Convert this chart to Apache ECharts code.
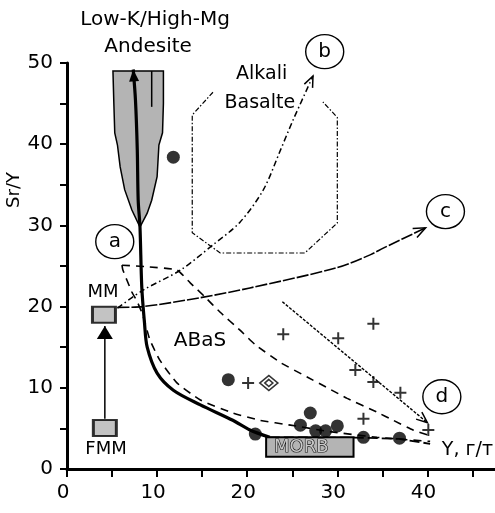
<!DOCTYPE html>
<html><head><meta charset="utf-8">
<script src="https://cdn.jsdelivr.net/npm/echarts@6/dist/echarts.min.js"></script>
<style>html,body{margin:0;padding:0;background:#fff}#c{width:495px;height:513px}</style>
</head><body><div id="c"></div>
<script>
const FONT = '"DejaVu Sans", sans-serif';
const xTickLabels = [0, 10, 20, 30, 40];
const yTickLabels = [0, 10, 20, 30, 40, 50];

// thick main trend curve (Sr/Y vs Y)
const mainCurve = [[22.5,3.9],[20.3,4.8],[18.4,6.0],[14.8,7.9],[11.8,9.7],[10.0,11.8],[8.9,15.0],[8.6,18.0],[8.3,22.4],[8.1,29.8],[7.9,33.1],[7.8,39.3],[7.6,45.4],[7.35,49.2]];
const mainTail = [[22.5,3.9],[32.9,3.85],[36.9,3.7],[40.3,3.1]];
// Low-K/High-Mg andesite field
const andesiteField = [[5.1,49.0],[5.2,45.0],[5.3,41.4],[5.6,39.9],[5.9,37.2],[6.4,34.4],[7.2,31.9],[8.1,29.8],[8.9,31.5],[9.4,33.1],[10.0,36.0],[10.2,39.9],[10.6,41.4],[10.7,45.0],[10.7,49.0]];
const andesiteInner = [[9.4,49.0],[9.4,44.6]];
// ABaS field boundaries
const abasUpper = [[6.1,25.1],[9.0,24.9],[12.2,24.5],[13.7,22.9],[15.3,21.2],[17.0,19.3],[19.2,17.1],[20.9,15.3],[23.7,13.1],[26.7,11.3],[28.9,10.0],[31.1,8.7],[34.4,7.0],[36.2,6.0],[38.4,4.8],[40.0,4.2]];
const abasInner = [[6.1,25.1],[6.2,24.5],[7.2,21.8],[7.8,20.6],[8.4,19.0],[9.2,15.9],[10.3,13.4],[12.2,10.6],[14.8,8.5],[18.4,6.9],[21.4,6.0],[24.8,5.4],[29.2,4.6],[34.4,3.9],[40.3,3.4]];
// trends b, c, d
const trendB = [[5.6,19.8],[8.4,22.0],[12.6,24.5],[16.2,27.6],[19.2,30.4],[21.8,34.4],[23.7,39.3],[25.1,43.0],[27.3,48.4]];
const trendC = [[5.6,19.9],[8.4,20.0],[14.8,21.1],[20.3,22.3],[30.0,24.8],[33.7,26.4],[35.1,27.2],[39.8,29.7]];
const trendD = [[23.9,20.6],[40.0,5.7]];
const fmmToMm = [[4.2,6.2],[4.2,17.6]];
// Alkali basalt field (open top)
const alkaliBasaltField = [[16.2,46.4],[13.9,43.6],[13.9,29.1],[17.0,26.6],[26.4,26.6],[30.0,30.3],[30.0,43.3],[28.4,45.2]];
// samples
const dots = [[11.8,38.4],[17.9,11.0],[20.9,4.3],[25.9,5.4],[27.0,6.9],[27.6,4.7],[28.7,4.7],[30.0,5.3],[32.9,3.9],[36.9,3.8]];
const crosses = [[24.0,16.6],[30.1,16.1],[34.0,17.9],[32.0,12.2],[34.0,10.7],[37.0,9.4],[32.9,6.2],[40.1,4.8],[20.1,10.6]];
const diamond = [[22.4,10.6]];
// sources
const mantleSources = [[4.1,19.0],[4.2,5.05]];
const morbBox = [[22.1,3.9],[31.8,1.5]];
// annotations
const circleTags = [[5.3,28.0],[28.6,51.4],[42.0,31.7],[41.6,8.9]];
const circleTagText = ['a','b','c','d'];
const notePos = [[9.77,55.3],[9.0,52.0],[21.6,48.6],[21.4,45.1],[14.76,15.8],[4.0,21.7],[4.33,2.46],[41.6,2.34]];
const noteText = ['Low-K/High-Mg','Andesite','Alkali','Basalte','ABaS','MM','FMM','Y, г/т'];
const noteSize = [20,20,19,19,20,18,18,19];
const noteAlign = ['center','center','center','center','center','center','center','left'];
const morbLabelPos = [[26.0,2.7]];

const arrowList = [
  {pts: mainCurve, fill: true, len: 12, half: 5},
  {pts: fmmToMm, fill: true, len: 13, half: 8},
  {pts: trendB, fill: false, len: 11, half: 4.5},
  {pts: trendC, fill: false, len: 12, half: 5},
  {pts: trendD, fill: false, len: 11, half: 4.5}
];

function lineSeries(data, width, dash, smooth, z) {
  return {type: 'line', data: data, symbol: 'none', showSymbol: false, smooth: smooth || false,
    lineStyle: {color: '#000', width: width, type: dash || 'solid', cap: 'butt'},
    silent: true, clip: false, z: z || 3};
}
function shapeSeries(points, build, z) {
  return {type: 'custom', coordinateSystem: 'cartesian2d', data: points, clip: false, silent: true, z: z || 2,
    renderItem: function (params, api) {
      if (params.dataIndex !== 0) return null;
      return build(points.map(function (p) { return api.coord(p); }), api);
    }};
}

const chart = echarts.init(document.getElementById('c'), null, {renderer: 'canvas'});
chart.setOption({
  animation: false,
  backgroundColor: '#fff',
  grid: {left: 67, right: 0, top: 63, bottom: 44, containLabel: false},
  xAxis: {type: 'value', min: 0, max: 47.5, interval: 5,
    axisLine: {show: true, onZero: false, lineStyle: {color: '#000', width: 3}},
    axisTick: {show: true, inside: false, length: 8, lineStyle: {color: '#000', width: 2}},
    axisLabel: {color: '#000', fontFamily: FONT, fontSize: 20, margin: 14, padding: [0, 8, 0, 0],
      showMaxLabel: false,
      formatter: function (v) { return xTickLabels.indexOf(v) >= 0 ? String(v) : ''; }},
    splitLine: {show: false}},
  yAxis: {type: 'value', min: 0, max: 50, interval: 5,
    axisLine: {show: true, onZero: false, lineStyle: {color: '#000', width: 3}},
    axisTick: {show: true, inside: false, length: 7, lineStyle: {color: '#000', width: 2}},
    axisLabel: {color: '#000', fontFamily: FONT, fontSize: 20, margin: 14,
      formatter: function (v) { return yTickLabels.indexOf(v) >= 0 ? String(v) : ''; }},
    splitLine: {show: false}},
  graphic: [{type: 'text', x: 14, y: 190, rotation: Math.PI / 2,
    style: {text: 'Sr/Y', fill: '#000', font: '18px ' + FONT, align: 'center', verticalAlign: 'middle'}}],
  series: [
    shapeSeries(andesiteField, function (pts) {
      return {type: 'polygon', shape: {points: pts}, style: {fill: '#b4b4b4', stroke: '#000', lineWidth: 1.5}};
    }, 1),
    shapeSeries(alkaliBasaltField, function (pts) {
      return {type: 'polyline', shape: {points: pts}, style: {fill: null, stroke: '#000', lineWidth: 1.2, lineDash: [5, 2, 1.5, 2]}};
    }, 1),
    lineSeries(andesiteInner, 1.5),
    lineSeries(abasUpper, 1.6, [8, 6], 0.15),
    lineSeries(abasInner, 1.6, [8, 6], 0.15),
    lineSeries(trendB, 1.5, [6, 3, 1.5, 3], 0.3),
    lineSeries(trendC, 1.6, [12, 2], 0.3),
    lineSeries(trendD, 1.4, [3, 1.5]),
    lineSeries(fmmToMm, 1.5),
    lineSeries(mainTail, 1.8, [10, 4]),
    lineSeries(mainCurve, 3.2, 'solid', 0.3, 4),
    {type: 'custom', coordinateSystem: 'cartesian2d', clip: false, silent: true, z: 5,
      data: arrowList.map(function (a) { return a.pts[a.pts.length - 1]; }),
      renderItem: function (params, api) {
        const a = arrowList[params.dataIndex];
        const n = a.pts.length;
        const p1 = api.coord(a.pts[n - 2]), p2 = api.coord(a.pts[n - 1]);
        const ang = Math.atan2(p2[1] - p1[1], p2[0] - p1[0]);
        const bx = p2[0] - a.len * Math.cos(ang), by = p2[1] - a.len * Math.sin(ang);
        const nx = -Math.sin(ang) * a.half, ny = Math.cos(ang) * a.half;
        const L = [bx + nx, by + ny], R = [bx - nx, by - ny];
        if (a.fill) return {type: 'polygon', shape: {points: [p2, L, R]}, style: {fill: '#000'}};
        return {type: 'polyline', shape: {points: [L, p2, R]}, style: {fill: null, stroke: '#000', lineWidth: 1.5}};
      }},
    shapeSeries(morbBox, function (pts) {
      return {type: 'rect', shape: {x: pts[0][0], y: pts[0][1], width: pts[1][0] - pts[0][0], height: pts[1][1] - pts[0][1]},
        style: {fill: '#b4b4b4', stroke: '#000', lineWidth: 2}};
    }, 6),
    {type: 'custom', coordinateSystem: 'cartesian2d', clip: false, silent: true, z: 7, data: morbLabelPos,
      renderItem: function (params, api) {
        const p = api.coord([api.value(0), api.value(1)]);
        return {type: 'text', x: p[0], y: p[1], style: {text: 'MORB', fill: '#c8c8c8', stroke: '#111', lineWidth: 1.2,
          font: '18px ' + FONT, align: 'center', verticalAlign: 'middle'}};
      }},
    {type: 'scatter', data: mantleSources, symbol: 'rect', symbolSize: [23, 16], silent: true, z: 6,
      itemStyle: {color: '#b4b4b4', borderColor: '#000', borderWidth: 2.5}},
    {type: 'scatter', data: crosses, symbol: 'path://M0,6L12,6M6,0L6,12', symbolSize: 12, silent: true, z: 8,
      itemStyle: {color: 'rgba(0,0,0,0)', borderColor: '#000', borderWidth: 2}},
    {type: 'scatter', data: diamond, symbol: 'diamond', symbolSize: [18, 15], silent: true, z: 8,
      itemStyle: {color: '#fff', borderColor: '#000', borderWidth: 1.6}},
    {type: 'scatter', data: diamond, symbol: 'diamond', symbolSize: [8, 7], silent: true, z: 9,
      itemStyle: {color: '#fff', borderColor: '#000', borderWidth: 1.6}},
    {type: 'scatter', data: dots, symbol: 'circle', symbolSize: 13, silent: true, z: 8,
      itemStyle: {color: '#000'}},
    {type: 'custom', coordinateSystem: 'cartesian2d', clip: false, silent: true, z: 10, data: circleTags,
      renderItem: function (params, api) {
        const p = api.coord([api.value(0), api.value(1)]);
        return {type: 'group', children: [
          {type: 'ellipse', shape: {cx: p[0], cy: p[1], rx: 19, ry: 17}, style: {fill: '#fff', stroke: '#000', lineWidth: 1.4}},
          {type: 'text', x: p[0], y: p[1], style: {text: circleTagText[params.dataIndex], fill: '#000', font: '20px ' + FONT, align: 'center', verticalAlign: 'middle'}}
        ]};
      }},
    {type: 'custom', coordinateSystem: 'cartesian2d', clip: false, silent: true, z: 10, data: notePos,
      renderItem: function (params, api) {
        const i = params.dataIndex;
        const p = api.coord([api.value(0), api.value(1)]);
        return {type: 'text', x: p[0], y: p[1], style: {text: noteText[i], fill: '#000', font: noteSize[i] + 'px ' + FONT,
          align: noteAlign[i], verticalAlign: 'middle'}};
      }}
  ]
});
</script></body></html>
